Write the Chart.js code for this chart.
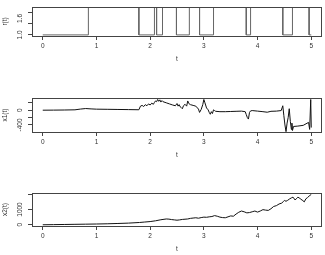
<!DOCTYPE html>
<html>
<head>
<meta charset="utf-8">
<script src="https://cdn.jsdelivr.net/npm/chart.js@4/dist/chart.umd.min.js"></script>
<style>
  html, body { margin: 0; padding: 0; background: #fff; }
  body { width: 325px; height: 255px; position: relative; overflow: hidden; }
  canvas { position: absolute; left: 0; }
</style>
</head>
<body>
<canvas id="c1" width="325" height="85" style="top:0px"></canvas>
<canvas id="c2" width="325" height="85" style="top:85px"></canvas>
<canvas id="c3" width="325" height="85" style="top:170px"></canvas>
<script>
// ---- data ----
const xTicks = [0, 1, 2, 3, 4, 5];
const xTitle = "t";

// r(t): switching times and regime held until the next time
const rTimes  = [0, 0.85, 1.79, 2.08, 2.12, 2.23, 2.49, 2.73, 2.92, 3.18, 3.79, 3.87, 4.47, 4.65, 4.96, 5.0];
const rStates = [1, 2,    1,    2,    1,    2,    1,    2,    1,    2,    1,    2,    1,    2,    1];
const rTicks = [1.0, 1.2, 1.4, 1.6, 1.8, 2.0];
const rTickLabels = ["1.0", "", "", "1.6", "", ""];

const x1T = [0, 0.2, 0.4, 0.6, 0.7, 0.8, 0.9, 1.0, 1.2, 1.4, 1.6, 1.79, 1.82, 1.85, 1.88, 1.91, 1.94, 1.97, 2.0, 2.03,
  2.06, 2.08, 2.1, 2.12, 2.14, 2.16, 2.18, 2.2, 2.22, 2.24, 2.3, 2.36, 2.42, 2.47, 2.5, 2.52, 2.54, 2.56, 2.58, 2.6,
  2.62, 2.65, 2.68, 2.7, 2.72, 2.75, 2.8, 2.85, 2.9, 2.92, 2.95, 2.98, 3.0, 3.02, 3.05, 3.08, 3.1, 3.12, 3.14, 3.16,
  3.18, 3.2, 3.22, 3.3, 3.4, 3.5, 3.6, 3.7, 3.77, 3.79, 3.81, 3.83, 3.85, 3.87, 3.9, 4.0, 4.1, 4.18, 4.25, 4.35,
  4.44, 4.47, 4.49, 4.51, 4.53, 4.55, 4.57, 4.59, 4.61, 4.63, 4.64, 4.65, 4.67, 4.75, 4.85, 4.95, 4.97, 4.99, 5.0];
const x1V = [0, 2, 5, 10, 30, 45, 35, 28, 24, 20, 16, 12, 110, 130, 100, 150, 120, 170, 140, 190,
  160, 210, 250, 230, 290, 240, 280, 220, 260, 230, 200, 170, 140, 120, 180, 110, 150, 90, 70, 40,
  120, 160, 110, 250, 180, 150, 130, 110, 30, -60, 20, 150, 290, 200, 60, 10, -60, -110, -40, -90,
  10, -10, -30, -40, -40, -35, -30, -25, -40, -120, -200, -240, -60, -20, -10, -25, -40, -55, -30, -25,
  -10, 120, -150, -400, -580, -350, -200, 40, -300, -520, -350, -550, -440, -430, -410, -330, -520, 290, -470];
const x1Ticks = [-400, -200, 0, 200];
const x1TickLabels = ["-400", "", "0", ""];

const x2T = [0, 0.2, 0.4, 0.6, 0.8, 1.0, 1.2, 1.4, 1.6, 1.8, 1.9, 2.0, 2.1, 2.2, 2.3, 2.35, 2.4, 2.45, 2.5, 2.55,
  2.6, 2.7, 2.75, 2.8, 2.85, 2.9, 2.95, 3.0, 3.05, 3.1, 3.15, 3.2, 3.25, 3.3, 3.35, 3.4, 3.45, 3.5, 3.55, 3.6,
  3.65, 3.7, 3.75, 3.8, 3.85, 3.9, 3.95, 4.0, 4.05, 4.1, 4.15, 4.2, 4.25, 4.3, 4.35, 4.4, 4.45, 4.48, 4.5, 4.53,
  4.56, 4.6, 4.63, 4.66, 4.7, 4.72, 4.75, 4.78, 4.8, 4.83, 4.87, 4.9, 4.93, 4.96, 5.0];
const x2V = [0, 10, 20, 30, 40, 50, 65, 85, 110, 150, 180, 210, 260, 330, 380, 370, 340, 320, 300, 320,
  350, 380, 420, 440, 460, 430, 470, 500, 490, 520, 540, 600, 560, 500, 470, 460, 520, 580, 560, 700,
  820, 900, 850, 780, 800, 850, 900, 830, 900, 990, 960, 940, 1050, 1200, 1250, 1360, 1420, 1520, 1590, 1540,
  1600, 1700, 1760, 1810, 1620, 1700, 1800, 1760, 1680, 1620, 1500, 1700, 1780, 1880, 1990];
const x2Ticks = [0, 500, 1000, 1500, 2000];
const x2TickLabels = ["0", "", "1000", "", ""];

// ---- helpers ----
const FONT = '"Liberation Sans", Arial, sans-serif';
const TXT = '#333';

function stepPoints(times, states) {
  const pts = [];
  for (let i = 0; i < states.length; i++) {
    pts.push({ x: times[i], y: states[i] });
    pts.push({ x: times[i + 1], y: states[i] });
  }
  return pts;
}
function pairPoints(ts, vs) { return ts.map((t, i) => ({ x: t, y: vs[i] })); }

function makePanel(id, points, lineColor, yMin, yMax, yTicks, yLabels, yTitle, padTop, xAxisH) {
  const boxPlugin = {
    id: 'rbox' + id,
    afterDraw(chart) {
      const ctx = chart.ctx, ca = chart.chartArea;
      ctx.save();
      ctx.strokeStyle = '#444';
      ctx.lineWidth = 1;
      ctx.strokeRect(Math.round(ca.left) + 0.5, Math.round(ca.top) + 0.5,
                     Math.round(ca.right - ca.left) - 1, Math.round(ca.bottom - ca.top));
      const ys = chart.scales.y;
      ctx.fillStyle = TXT;
      ctx.font = '6.5px ' + FONT;
      ctx.textAlign = 'center';
      ctx.textBaseline = 'middle';
      yTicks.forEach((v, i) => {
        if (!yLabels[i]) return;
        const py = ys.getPixelForValue(v);
        ctx.save();
        ctx.translate(20, py);
        ctx.rotate(-Math.PI / 2);
        ctx.fillText(yLabels[i], 0, 0);
        ctx.restore();
      });
      // y title
      ctx.save();
      ctx.translate(5, (ca.top + ca.bottom) / 2);
      ctx.rotate(-Math.PI / 2);
      ctx.fillText(yTitle, 0, 0);
      ctx.restore();
      // x title
      ctx.fillText(xTitle, (ca.left + ca.right) / 2, ca.bottom + 23);
      ctx.restore();
    }
  };
  return new Chart(document.getElementById(id), {
    type: 'line',
    data: {
      datasets: [{
        data: points,
        borderColor: lineColor,
        borderWidth: 1,
        pointRadius: 0,
        tension: 0,
        fill: false
      }]
    },
    options: {
      responsive: false,
      animation: false,
      devicePixelRatio: 1,
      layout: { padding: { top: padTop, right: 3, left: 0, bottom: 0 } },
      plugins: { legend: { display: false }, tooltip: { enabled: false } },
      scales: {
        x: {
          type: 'linear',
          min: -0.2, max: 5.2,
          afterBuildTicks(s) { s.ticks = xTicks.map(v => ({ value: v })); },
          afterFit(s) { s.height = xAxisH; },
          grid: { display: true, drawOnChartArea: false, drawTicks: true, tickLength: 4, color: '#444' },
          border: { display: false },
          ticks: { color: TXT, font: { size: 6.5, family: FONT }, padding: 2, maxRotation: 0, autoSkip: false,
                   callback: v => String(v) }
        },
        y: {
          type: 'linear',
          min: yMin, max: yMax,
          afterBuildTicks(s) { s.ticks = yTicks.map(v => ({ value: v })); },
          afterFit(s) { s.width = 32; },
          grid: { display: true, drawOnChartArea: false, drawTicks: true, tickLength: 4, color: '#444' },
          border: { display: false },
          ticks: { callback: () => '', font: { size: 6.5 } }
        }
      }
    },
    plugins: [boxPlugin]
  });
}

makePanel('c1', stepPoints(rTimes, rStates), '#666', 0.96, 2.02, rTicks, rTickLabels, 'r(t)', 4, 49);
makePanel('c2', pairPoints(x1T, x1V), '#111', -590, 330, x1Ticks, x1TickLabels, 'x1(t)', 13, 38);
makePanel('c3', pairPoints(x2T, x2V), '#111', -80, 2080, x2Ticks, x2TickLabels, 'x2(t)', 23, 29);
</script>
</body>
</html>
